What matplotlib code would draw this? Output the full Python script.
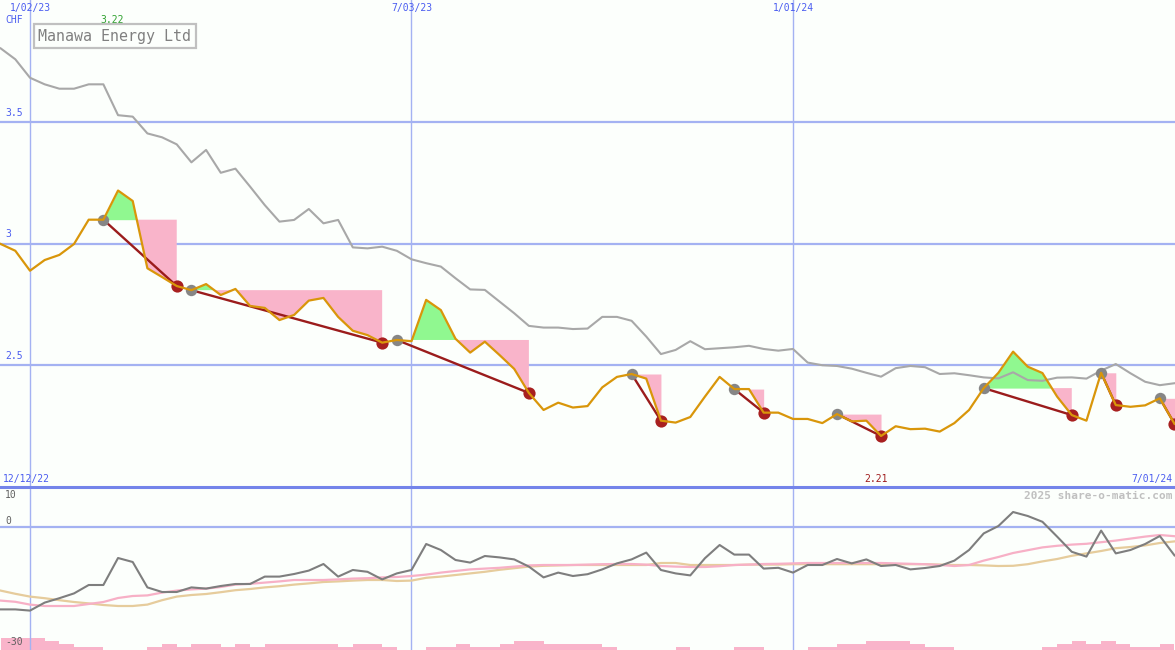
import matplotlib.pyplot as plt
import numpy as np

# weekly closes, one point per week starting 12/12/22
price = [3.00, 2.972, 2.89, 2.934, 2.955, 3.00, 3.10, 3.10, 3.22, 3.177,
         2.90, 2.864, 2.827, 2.81, 2.835, 2.79, 2.815, 2.745, 2.737, 2.687,
         2.708, 2.767, 2.778, 2.70, 2.643, 2.625, 2.594, 2.605, 2.60, 2.77,
         2.728, 2.61, 2.553, 2.598, 2.543, 2.486, 2.387, 2.317, 2.347, 2.327,
         2.333, 2.41, 2.453, 2.465, 2.446, 2.273, 2.265, 2.288, 2.372, 2.453,
         2.403, 2.403, 2.306, 2.306, 2.28, 2.28, 2.263, 2.30, 2.27, 2.273,
         2.21, 2.25, 2.238, 2.24, 2.228, 2.263, 2.317, 2.407, 2.47, 2.557,
         2.495, 2.469, 2.372, 2.296, 2.273, 2.47, 2.337, 2.33, 2.336, 2.365,
         2.26]

# grey moving average line
ma = [3.805, 3.76, 3.684, 3.657, 3.639, 3.639, 3.657, 3.657, 3.53, 3.524,
      3.455, 3.439, 3.41, 3.336, 3.387, 3.293, 3.31, 3.236, 3.16, 3.092,
      3.099, 3.144, 3.085, 3.099, 2.986, 2.982, 2.989, 2.972, 2.937, 2.921,
      2.907, 2.859, 2.813, 2.811, 2.763, 2.715, 2.663, 2.656, 2.656, 2.65,
      2.652, 2.70, 2.70, 2.684, 2.619, 2.547, 2.564, 2.60, 2.567, 2.571,
      2.575, 2.581, 2.568, 2.561, 2.568, 2.512, 2.501, 2.498, 2.487, 2.47,
      2.454, 2.489, 2.498, 2.493, 2.465, 2.468, 2.46, 2.451, 2.447, 2.472,
      2.44, 2.437, 2.45, 2.451, 2.446, 2.479, 2.506, 2.468, 2.433, 2.419,
      2.427]

# lower panel: momentum (grey) and its two averages (pink, tan)
mom = [-20.6, -20.6, -20.9, -18.9, -17.8, -16.6, -14.5, -14.5, -7.75, -8.75,
       -15.1, -16.25, -16.25, -15.1, -15.4, -14.75, -14.25, -14.25, -12.4, -12.4,
       -11.75, -10.9, -9.25, -12.4, -10.75, -11.2, -13.1, -11.6, -10.75, -4.25,
       -5.75, -8.25, -8.9, -7.25, -7.6, -8.1, -9.9, -12.6, -11.4, -12.25,
       -11.8, -10.6, -9.1, -8.1, -6.4, -10.75, -11.6, -12.1, -7.8, -4.5,
       -6.9, -6.9, -10.4, -10.2, -11.4, -9.5, -9.5, -8.0, -9.1, -8.1,
       -9.75, -9.5, -10.6, -10.25, -9.75, -8.4, -5.75, -1.6, 0.25, 3.75,
       2.75, 1.3, -2.4, -6.2, -7.4, -0.9, -6.6, -5.75, -4.25, -2.25,
       -7.1]

mom_fast = [-18.4, -18.7, -19.4, -19.75, -19.75, -19.75, -19.25, -18.75, -17.75, -17.25,
            -17.1, -16.4, -15.9, -15.6, -15.4, -15.0, -14.4, -14.2, -13.9, -13.6,
            -13.25, -13.25, -13.25, -13.1, -12.9, -12.8, -12.6, -12.5, -12.25, -11.9,
            -11.4, -11.0, -10.6, -10.4, -10.2, -9.9, -9.6, -9.5, -9.5, -9.5,
            -9.4, -9.3, -9.25, -9.25, -9.4, -9.75, -9.9, -10.0, -10.0, -9.8,
            -9.5, -9.4, -9.25, -9.2, -9.1, -9.0, -9.0, -9.0, -9.0, -9.0,
            -9.0, -9.1, -9.2, -9.3, -9.5, -9.75, -9.5, -8.4, -7.5, -6.5,
            -5.8, -5.1, -4.7, -4.4, -4.2, -3.8, -3.4, -2.9, -2.4, -2.0,
            -2.3]

mom_slow = [-15.9, -16.7, -17.4, -17.8, -18.3, -18.75, -19.1, -19.5, -19.75, -19.75,
            -19.4, -18.3, -17.4, -17.0, -16.75, -16.3, -15.8, -15.5, -15.1, -14.8,
            -14.4, -14.1, -13.75, -13.6, -13.4, -13.25, -13.25, -13.5, -13.4, -12.7,
            -12.4, -12.0, -11.6, -11.2, -10.7, -10.3, -9.9, -9.7, -9.6, -9.5,
            -9.5, -9.5, -9.5, -9.5, -9.5, -9.0, -9.0, -9.5, -9.5, -9.5,
            -9.5, -9.4, -9.4, -9.4, -9.3, -9.3, -9.3, -9.3, -9.3, -9.3,
            -9.3, -9.3, -9.3, -9.3, -9.4, -9.5, -9.5, -9.6, -9.75, -9.7,
            -9.3, -8.6, -8.0, -7.2, -6.6, -6.0, -5.3, -5.0, -4.6, -4.0,
            -3.6]

# volume, in chart levels
vol = [4, 4, 4, 3, 2, 1, 1, 0, 0, 0,
       1, 2, 1, 2, 2, 1, 2, 1, 2, 2,
       2, 2, 2, 1, 2, 2, 1, 0, 0, 1,
       1, 2, 1, 1, 2, 3, 3, 2, 2, 2,
       2, 1, 0, 0, 0, 0, 1, 0, 0, 0,
       1, 1, 0, 0, 0, 1, 1, 2, 2, 3,
       3, 3, 2, 1, 1, 0, 0, 0, 0, 0,
       0, 1, 2, 3, 2, 3, 2, 1, 1, 2,
       0]

# trend segments: start week (grey dot) -> end week (red dot)
sig_start = [7, 13, 27, 43, 50, 57, 67, 75, 79]
sig_end = [12, 26, 36, 45, 52, 60, 73, 76, 80]

date_lines = [2, 28, 54]
date_labels = ['1/02/23', '7/03/23', '1/01/24']
price_grid = [2.5, 3.0, 3.5]
price_labels = ['2.5', '3', '3.5']
mom_grid_labels = ['10', '0', '-30']
mom_label_pos = [8.0, 1.5, -28.75]

BG = '#fcfffc'
GRID = '#a4b2f2'
SEP = '#7484ea'
BLUE = '#4a5cf0'
ORANGE = '#d9960a'
GREYLINE = '#a8a8a8'
GREEN = '#90f890'
PINK = '#f9b4ca'
DARKRED = '#9b1c1c'
DOTRED = '#a82020'
FONT = 'DejaVu Sans Mono'

W, H = 1175, 650
fig = plt.figure(figsize=(W / 100, H / 100), dpi=100)
fig.patch.set_facecolor(BG)

top_h = 487
ax = fig.add_axes([0, (H - top_h) / H, 1, top_h / H])
ax2 = fig.add_axes([0, 0, 1, (H - top_h) / H])
for a in (ax, ax2):
    a.set_facecolor(BG)
    a.set_axis_off()
    a.set_xlim(-0.045, 80.035)

ax.set_ylim(2.0, 4.004)
ax2.set_ylim(-30.75, 10)

idx = np.arange(len(price))
price = np.array(price)

# grid
for v in price_grid:
    ax.axhline(v, color=GRID, lw=1.6, zorder=1)
for d in date_lines:
    ax.axvline(d, color=GRID, lw=1.0, zorder=1)
    ax2.axvline(d, color=GRID, lw=1.0, zorder=1)
ax2.axhline(0, color=GRID, lw=1.6, zorder=1)
ax2.axhline(10, color=SEP, lw=2.2, zorder=5, clip_on=False)

# green / pink areas against the starting level
for s, e in zip(sig_start, sig_end):
    xs = idx[s:e + 1]
    ys = price[s:e + 1]
    lvl = price[s]
    ax.fill_between(xs, ys, lvl, where=ys >= lvl, interpolate=True,
                    color=GREEN, lw=0, zorder=2)
    ax.fill_between(xs, ys, lvl, where=ys <= lvl, interpolate=True,
                    color=PINK, lw=0, zorder=2)

ax.plot(idx, ma, color=GREYLINE, lw=1.5, zorder=3)

for s, e in zip(sig_start, sig_end):
    ax.plot([s, e], [price[s], price[e]], color=DARKRED, lw=1.7, zorder=4)
ax.plot(sig_end, price[sig_end], 'o', color=DOTRED, ms=8.8, mec='none', zorder=5)
ax.plot(sig_start, price[sig_start], 'o', color='#868686', ms=8.2, mec='none', zorder=5)

ax.plot(idx, price, color=ORANGE, lw=1.6, zorder=6)

# lower panel
axv = ax2.twinx()
axv.set_axis_off()
axv.set_ylim(0, (H - top_h) / 3)
axv.bar(idx, vol, width=1.0, align='edge', color=PINK, lw=0, zorder=1)
ax2.set_zorder(axv.get_zorder() + 1)
ax2.patch.set_visible(False)
axv.patch.set_visible(True)
axv.patch.set_facecolor(BG)

ax2.plot(idx, mom_slow, color='#e6cc9c', lw=1.6, zorder=3)
ax2.plot(idx, mom_fast, color='#f7b0c6', lw=1.6, zorder=3)
ax2.plot(idx, mom, color='#7e7e7e', lw=1.5, zorder=4)


def px(x, y):
    return x / W, 1 - y / H


# texts
for d, lab in zip(date_lines, date_labels):
    ax.text(d, 1.0 - 8 / top_h, lab, transform=ax.get_xaxis_transform(),
            ha='center', va='center', fontsize=7, color=BLUE, family=FONT)
for v, lab in zip(price_grid, price_labels):
    ax.text(5 / W, v + 0.02, lab, transform=ax.get_yaxis_transform(),
            ha='left', va='bottom', fontsize=7, color=BLUE, family=FONT)
fig.text(*px(5, 20), 'CHF', ha='left', va='center', fontsize=7, color=BLUE, family=FONT)
fig.text(*px(112, 20), '%.2f' % price.max(), ha='center', va='center', fontsize=7,
         color='#2ca02c', family=FONT)
fig.text(*px(115, 36), 'Manawa Energy Ltd', ha='center', va='center', fontsize=10.8,
         color='#808080', family=FONT,
         bbox=dict(boxstyle='square,pad=0.3', fc=BG, ec='#c0c0c0', lw=1.6))

fig.text(*px(3, 479), '12/12/22', ha='left', va='center', fontsize=7, color=BLUE, family=FONT)
fig.text(*px(idx[price.argmin()] * 14.673 - 4, 479), '%.2f' % price.min(), ha='center',
         va='center', fontsize=7, color='#a01c1c', family=FONT)
fig.text(*px(1172, 479), '7/01/24', ha='right', va='center', fontsize=7, color=BLUE, family=FONT)
fig.text(*px(1172, 496), '2025 share-o-matic.com', ha='right', va='center', fontsize=8,
         color='#c0c0c0', family=FONT, weight='bold')

for v, lab in zip(mom_label_pos, mom_grid_labels):
    ax2.text(5 / W, v, lab, transform=ax2.get_yaxis_transform(), ha='left',
             va='center', fontsize=7, color='#606060', family=FONT, zorder=6)

fig.savefig('out.png', dpi=100, facecolor=BG)
